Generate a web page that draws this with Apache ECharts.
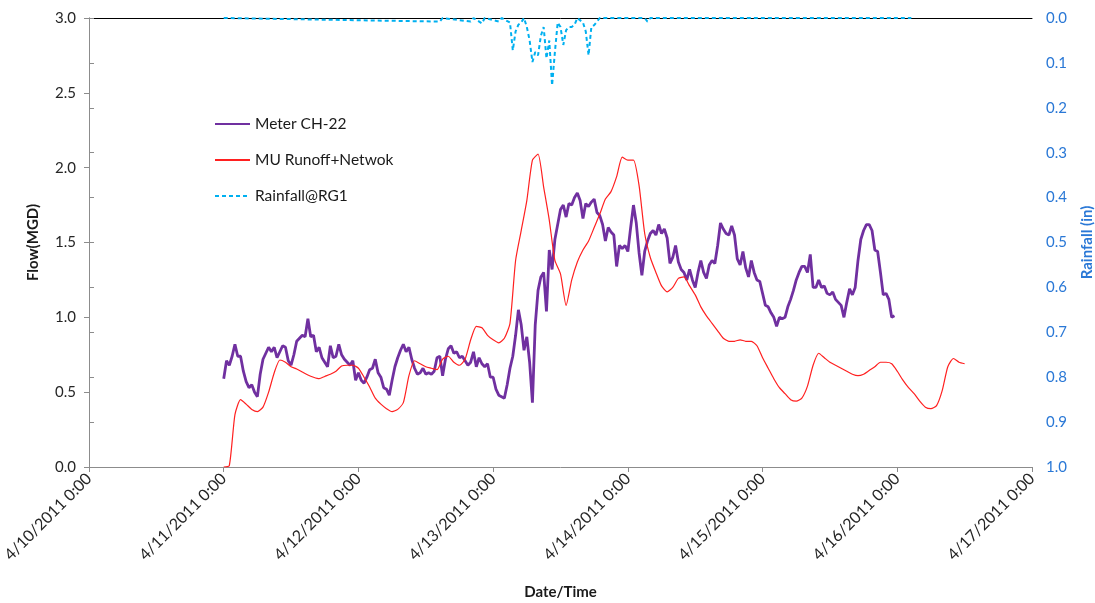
<!DOCTYPE html>
<html>
<head>
<meta charset="utf-8">
<script src="https://cdn.jsdelivr.net/npm/echarts@6/dist/echarts.min.js"></script>
<style>html,body{margin:0;padding:0;background:#fff}#c{width:1095px;height:603px}</style>
</head>
<body>
<div id="c"></div>
<script>
// Hours are counted from 4/10/2011 0:00
const xTickLabels = ['4/10/2011 0:00','4/11/2011 0:00','4/12/2011 0:00','4/13/2011 0:00','4/14/2011 0:00','4/15/2011 0:00','4/16/2011 0:00','4/17/2011 0:00'];
const flowTicks = [0, 0.5, 1.0, 1.5, 2.0, 2.5, 3.0];
const rainTicks = [0, 0.1, 0.2, 0.3, 0.4, 0.5, 0.6, 0.7, 0.8, 0.9, 1.0];

// Meter CH-22: 30-minute readings starting 4/11/2011 0:00
const meterStartHour = 24;
const meterStepHours = 0.5;
const meterValues = [
0.59,0.71,0.68,0.74,0.82,0.74,0.74,0.64,0.57,0.53,
0.55,0.50,0.47,0.62,0.72,0.76,0.80,0.77,0.80,0.73,
0.77,0.81,0.80,0.71,0.68,0.75,0.84,0.86,0.88,0.87,
0.99,0.87,0.88,0.77,0.80,0.73,0.70,0.67,0.81,0.73,
0.74,0.82,0.75,0.72,0.70,0.68,0.71,0.58,0.63,0.58,
0.56,0.60,0.65,0.66,0.72,0.63,0.60,0.53,0.52,0.48,
0.58,0.67,0.73,0.78,0.82,0.77,0.80,0.72,0.66,0.62,
0.63,0.66,0.62,0.63,0.62,0.64,0.73,0.74,0.61,0.72,
0.79,0.81,0.76,0.77,0.73,0.74,0.71,0.68,0.70,0.77,
0.67,0.73,0.69,0.67,0.69,0.60,0.60,0.52,0.48,0.47,
0.46,0.55,0.66,0.74,0.88,1.05,
0.95,0.78,0.87,0.70,0.43,0.95,1.18,1.27,1.30,1.04,
1.45,1.32,1.52,1.62,1.72,1.75,1.67,1.76,1.75,1.80,
1.83,1.78,1.66,1.76,1.74,1.77,1.79,1.70,
1.68,1.62,1.51,1.60,1.57,1.55,1.34,1.48,1.46,1.48,
1.44,1.60,1.75,1.63,1.43,1.28,1.44,1.51,1.56,1.58,
1.55,1.62,1.56,1.59,1.53,1.36,1.40,1.48,1.37,1.32,
1.30,1.25,1.32,1.25,1.20,1.30,1.38,1.30,1.26,1.35,
1.38,1.36,1.48,1.63,1.59,1.56,1.55,1.61,1.55,1.39,
1.35,1.44,1.33,1.27,1.38,1.30,1.25,1.24,1.16,1.08,
1.07,1.03,1.00,0.94,1.00,0.99,1.00,1.07,1.12,1.18,
1.25,1.30,1.34,1.34,1.30,1.42,1.20,1.20,1.25,1.20,
1.21,1.16,1.15,1.17,1.12,1.10,1.08,1.00,1.10,1.19,
1.15,1.20,1.38,1.52,1.58,1.62,1.62,1.58,1.45,1.44,
1.30,1.15,1.16,1.12,1.00,1.01
];

// MU Runoff+Netwok: hourly values starting 4/11/2011 0:00
const modelStartHour = 24;
const modelStepHours = 1;
const modelValues = [
0.00,0.01,0.35,0.45,0.42,0.385,0.37,0.40,0.50,0.63,
0.715,0.70,0.67,0.655,0.635,0.615,0.60,0.59,0.605,0.62,
0.64,0.675,0.68,0.68,0.66,0.60,0.535,0.46,0.42,0.39,
0.37,0.385,0.43,0.61,0.71,0.69,0.67,0.66,0.65,0.72,
0.74,0.70,0.68,0.72,0.85,0.94,0.93,0.88,0.85,0.83,
0.86,0.96,1.38,1.58,1.78,2.05,2.09,1.87,1.65,1.38,
1.29,1.08,1.25,1.37,1.45,1.51,1.60,1.69,1.79,1.84,
1.94,2.07,2.05,2.05,1.88,1.56,1.40,1.30,1.21,1.17,
1.20,1.26,1.27,1.21,1.15,1.07,1.01,0.96,0.91,0.86,
0.84,0.84,0.85,0.84,0.84,0.81,0.73,0.66,0.59,0.53,
0.49,0.45,0.44,0.46,0.54,0.68,0.76,0.73,0.70,0.68,
0.66,0.64,0.62,0.61,0.62,0.645,0.67,0.70,0.70,0.69,
0.64,0.58,0.53,0.49,0.44,0.40,0.39,0.41,0.51,0.67,
0.725,0.70,0.69
];

// Rainfall@RG1: hours since 4/11/2011 0:00 and inches
const rainStartHour = 24;
const rainHours = [0,38.5,39,44,44.5,46,46.5,49,49.5,51,51.5,52,52.5,53,53.5,54,54.5,55,55.5,56,56.5,57,57.5,58,58.5,59,59.5,60,60.5,61,61.5,62,62.5,63,64,64.5,65,65.5,66,66.5,67,75,75.5,76,122.5];
const rainValues = [0,0.008,0,0.008,0,0.012,0,0.008,0,0.01,0.072,0.03,0.015,0.01,0,0.02,0.05,0.098,0.076,0.083,0.04,0.02,0.09,0.05,0.15,0.076,0.01,0.02,0.06,0.027,0.02,0.02,0.015,0,0.01,0.03,0.083,0.02,0.016,0.008,0,0,0.008,0,0];

const meterData = meterValues.map((v, i) => [meterStartHour + i * meterStepHours, v]);
const modelData = modelValues.map((v, i) => [modelStartHour + i * modelStepHours, v]);
const rainData = rainHours.map((h, i) => [rainStartHour + h, rainValues[i]]);

const FONT = 'Lato, "Open Sans", sans-serif';
const chart = echarts.init(document.getElementById('c'), null, {renderer: 'canvas'});
chart.setOption({
  animation: false,
  backgroundColor: '#ffffff',
  textStyle: {fontFamily: FONT},
  grid: {left: 89, right: 63, top: 18, bottom: 136, containLabel: false, outerBoundsMode: 'none'},
  legend: {
    orient: 'vertical', left: 209, top: 111, itemGap: 20,
    itemWidth: 35, itemHeight: 14,
    itemStyle: {opacity: 0},
    textStyle: {fontFamily: FONT, fontSize: 15.5, color: '#1a1a1a'},
    data: ['Meter CH-22', 'MU Runoff+Netwok', 'Rainfall@RG1']
  },
  xAxis: [{
    type: 'value', min: 0, max: 168, interval: 24,
    name: 'Date/Time', nameLocation: 'middle', nameGap: 118,
    nameTextStyle: {fontFamily: FONT, fontSize: 15, fontWeight: 'bold', color: '#1a1a1a'},
    axisLine: {lineStyle: {color: '#8c8c8c', width: 1}},
    axisTick: {show: true, length: 5, lineStyle: {color: '#8c8c8c'}},
    splitLine: {show: false},
    axisLabel: {
      rotate: 45, fontSize: 16, color: '#262626', margin: 9, fontFamily: FONT,
      formatter: v => xTickLabels[Math.round(v / 24)]
    }
  }, {
    type: 'value', min: 0, max: 168, position: 'top',
    axisLine: {show: true, lineStyle: {color: '#000000', width: 1}},
    axisTick: {show: false}, axisLabel: {show: false}, splitLine: {show: false}
  }],
  yAxis: [{
    type: 'value', min: 0, max: 3, interval: 0.5,
    name: 'Flow(MGD)', nameLocation: 'middle', nameGap: 48, nameRotate: 90,
    nameTextStyle: {fontFamily: FONT, fontSize: 15, fontWeight: 'bold', color: '#1a1a1a'},
    axisLine: {show: true, lineStyle: {color: '#8c8c8c'}},
    axisTick: {show: true, length: 5, lineStyle: {color: '#8c8c8c'}},
    splitLine: {show: false},
    axisLabel: {fontSize: 15, color: '#262626', margin: 13, fontFamily: FONT,
      formatter: v => flowTicks.includes(v) ? v.toFixed(1) : ''}
  }, {
    type: 'value', min: 0, max: 1, interval: 0.1, inverse: true, position: 'right',
    name: 'Rainfall (in)', nameLocation: 'middle', nameGap: 48, nameRotate: 90,
    nameTextStyle: {fontFamily: FONT, fontSize: 15, fontWeight: 'bold', color: '#2a78d6'},
    axisLine: {show: true, lineStyle: {color: '#8c8c8c'}},
    axisTick: {show: true, length: 5, lineStyle: {color: '#8c8c8c'}},
    splitLine: {show: false},
    axisLabel: {fontSize: 15, color: '#2a78d6', margin: 14, fontFamily: FONT,
      formatter: v => rainTicks.some(t => Math.abs(t - v) < 1e-6) ? v.toFixed(1) : ''}
  }],
  series: [{
    name: 'Meter CH-22', type: 'line', data: meterData, xAxisIndex: 0, yAxisIndex: 0,
    showSymbol: false, symbol: 'none', color: '#7030a0',
    lineStyle: {color: '#7030a0', width: 2.8}, z: 3
  }, {
    name: 'MU Runoff+Netwok', type: 'line', data: modelData, xAxisIndex: 0, yAxisIndex: 0,
    showSymbol: false, symbol: 'none', color: '#ff2020', smooth: 0.2,
    lineStyle: {color: '#ff2020', width: 1.2}, z: 4
  }, {
    name: 'Rainfall@RG1', type: 'line', data: rainData, xAxisIndex: 0, yAxisIndex: 1,
    showSymbol: false, symbol: 'none', color: '#00b0f0',
    lineStyle: {color: '#00b0f0', width: 2, type: [4, 3]}, z: 2
  }]
});
</script>
</body>
</html>
